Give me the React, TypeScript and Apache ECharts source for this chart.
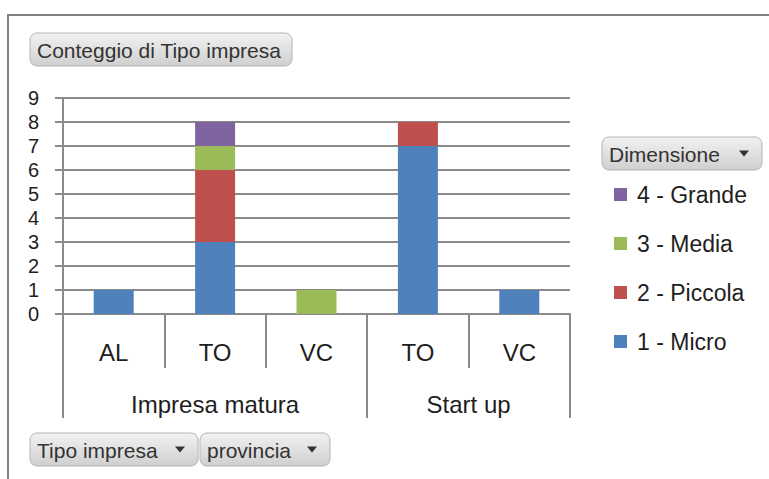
import React, { useEffect, useRef } from "react";
import * as echarts from "echarts";

const categories = ["AL", "TO", "VC", "TO", "VC"];
const groups = ["Impresa matura", "Start up"];
const groupBounds = [0, 3, 5];
const groupCenters = [1.5, 4];
const micro = [1, 3, 0, 7, 1];
const piccola = [0, 3, 0, 1, 0];
const media = [0, 1, 1, 0, 0];
const grande = [0, 1, 0, 0, 0];
const seriesNames = ["1 - Micro", "2 - Piccola", "3 - Media", "4 - Grande"];
const colors = ["#4F81BD", "#C0504D", "#9BBB59", "#8064A2"];
const yTicks = { min: 0, max: 9, interval: 1 };

const FONT = "Liberation Sans";
const GRAY = "#8a8a8a";
const TXT = "#1e1e1e";

function button(x: number, y: number, w: number, h: number, label: string, arrow: boolean) {
  const children: any[] = [
    {
      type: "rect",
      shape: { x, y, width: w, height: h, r: 7 },
      style: {
        fill: new echarts.graphic.LinearGradient(0, 0, 0, 1, [
          { offset: 0, color: "#f2f2f2" },
          { offset: 1, color: "#cfcfcf" },
        ]),
        stroke: "#b4b4b4",
        lineWidth: 1,
      },
    },
    {
      type: "text",
      x: x + 7,
      y: y + h / 2 + 1,
      style: { text: label, fontFamily: FONT, fontSize: 21, fill: "#333", verticalAlign: "middle" },
    },
  ];
  if (arrow) {
    const ax = x + w - 18;
    const ay = y + h / 2 - 3;
    children.push({
      type: "polygon",
      shape: { points: [[ax - 5, ay], [ax + 5, ay], [ax, ay + 6]] },
      style: { fill: "#333" },
    });
  }
  return { type: "group", children };
}

export default function App() {
  const ref = useRef<HTMLDivElement>(null);
  useEffect(() => {
    if (!ref.current) return;
    const chart = echarts.init(ref.current, null, { renderer: "svg" });
    const data = [micro, piccola, media, grande];
    chart.setOption({
      animation: false,
      backgroundColor: "#ffffff",
      textStyle: { fontFamily: FONT },
      grid: { left: 63, right: 199, top: 98, bottom: 165, containLabel: false },
      legend: {
        orient: "vertical",
        left: 614,
        top: 183,
        padding: 0,
        itemWidth: 13,
        itemHeight: 13,
        itemGap: 26,
        icon: "rect",
        data: [...seriesNames].reverse(),
        textStyle: { fontFamily: FONT, fontSize: 23, color: TXT, padding: [0, 0, 0, 5] },
        selectedMode: false,
      },
      xAxis: [
        {
          type: "category",
          data: categories,
          position: "bottom",
          axisLine: { show: true, lineStyle: { color: GRAY, width: 2 } },
          axisTick: { show: true, interval: 0, length: 54, lineStyle: { color: GRAY, width: 2 } },
          axisLabel: { interval: 0, margin: 26, fontSize: 24, color: TXT, fontFamily: FONT },
        },
        {
          type: "value",
          min: 0,
          max: 5,
          position: "bottom",
          splitLine: { show: false },
          axisLine: { show: false },
          axisTick: { show: true, customValues: groupBounds, length: 104, lineStyle: { color: GRAY, width: 2 } },
          axisLabel: {
            customValues: groupCenters,
            margin: 78,
            fontSize: 24,
            color: TXT,
            fontFamily: FONT,
            formatter: (v: number) => groups[groupCenters.indexOf(v)] ?? "",
          },
        },
      ],
      yAxis: {
        type: "value",
        min: yTicks.min,
        max: yTicks.max,
        interval: yTicks.interval,
        axisLine: { show: true, lineStyle: { color: GRAY, width: 2 } },
        axisTick: { show: true, length: 8, lineStyle: { color: GRAY, width: 2 } },
        splitLine: { show: true, lineStyle: { color: GRAY, width: 2 } },
        axisLabel: { margin: 24, fontSize: 20, color: TXT, fontFamily: FONT },
      },
      series: seriesNames.map((name, i) => ({
        name,
        type: "bar",
        stack: "total",
        xAxisIndex: 0,
        barWidth: 40,
        itemStyle: { color: colors[i] },
        data: data[i].map((v) => (v === 0 ? null : v)),
      })),
      graphic: [
        {
          type: "polyline",
          shape: { points: [[8, 500], [8, 15], [800, 15]] },
          style: { stroke: "#7f7f7f", lineWidth: 2, fill: null },
        },
        button(30, 33, 262, 33, "Conteggio di Tipo impresa", false),
        button(602, 137, 160, 33, "Dimensione", true),
        button(30, 433, 168, 33, "Tipo impresa", true),
        button(200, 433, 130, 33, "provincia", true),
      ],
    });
    return () => chart.dispose();
  }, []);
  return <div ref={ref} style={{ position: "fixed", left: 0, top: 0, width: 769, height: 479 }} />;
}
